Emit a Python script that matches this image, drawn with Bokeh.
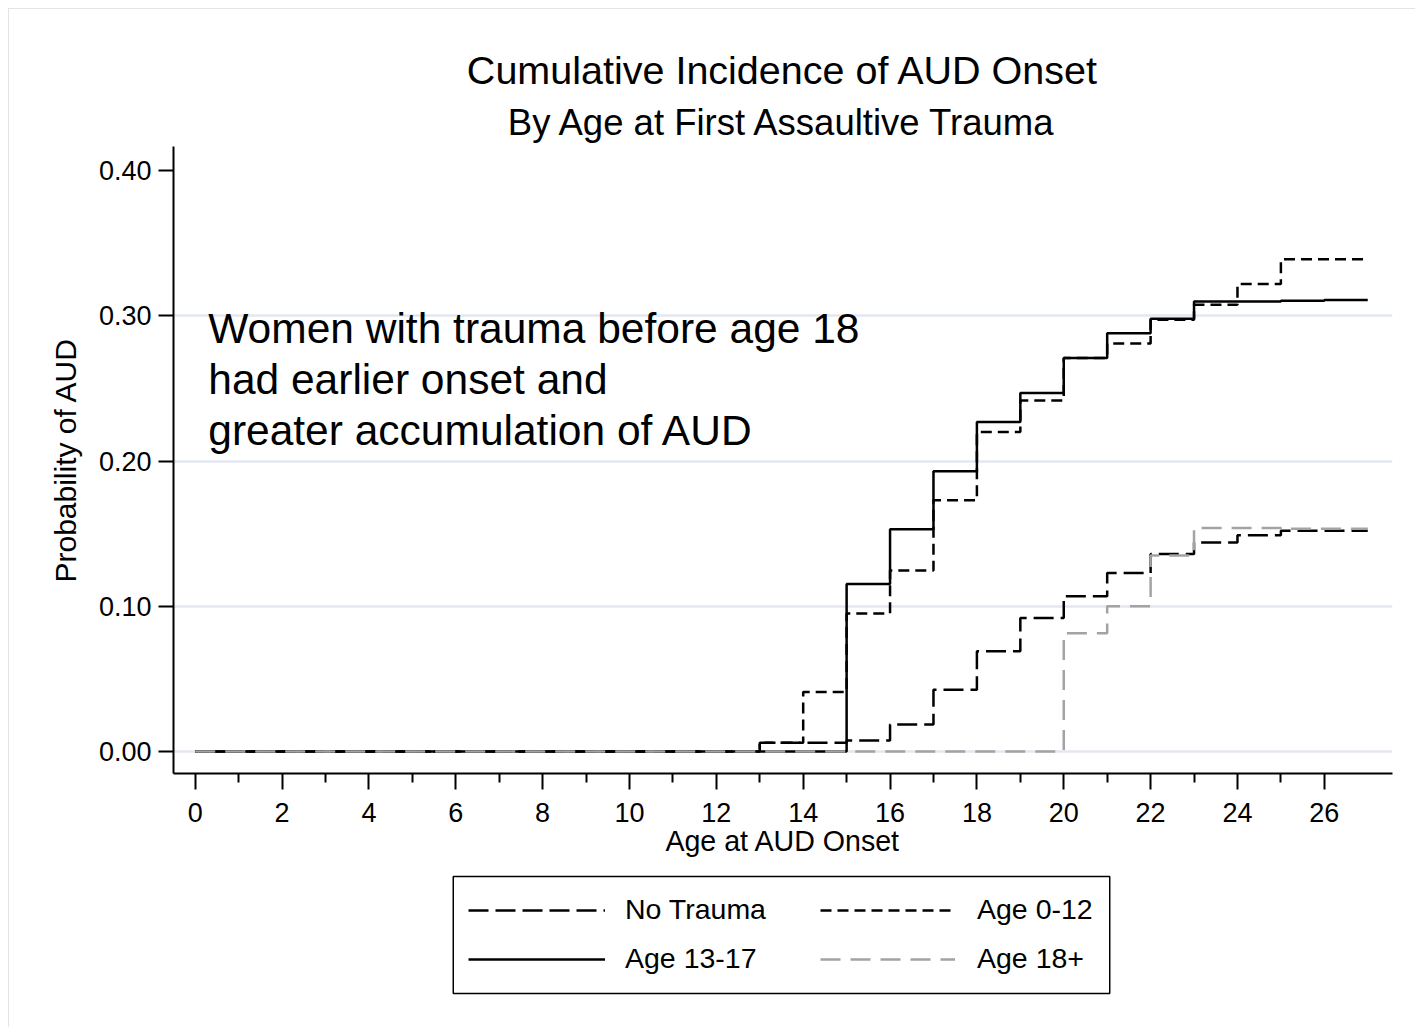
from bokeh.plotting import figure
from bokeh.layouts import column
from bokeh.models import (Range1d, FixedTicker, Label, Legend, LegendItem,
                          NumeralTickFormatter, Title, BoxAnnotation)
from bokeh.embed import file_html
from bokeh.resources import INLINE

# ---------------- data ----------------
ages = [0, 1, 2, 3, 4, 5, 6, 7, 8, 9, 10, 11, 12, 13, 14, 15, 16, 17, 18, 19, 20,
        21, 22, 23, 24, 25, 26, 27]
no_trauma = [0, 0, 0, 0, 0, 0, 0, 0, 0, 0, 0, 0, 0, 0.006, 0.006, 0.0076, 0.0186,
             0.0425, 0.069, 0.092, 0.107, 0.123, 0.136, 0.144, 0.149, 0.152, 0.152, 0.152]
age_0_12 = [0, 0, 0, 0, 0, 0, 0, 0, 0, 0, 0, 0, 0, 0.006, 0.041, 0.095, 0.1246,
            0.173, 0.220, 0.2417, 0.271, 0.281, 0.2974, 0.3077, 0.322, 0.339, 0.339, 0.339]
age_13_17 = [0, 0, 0, 0, 0, 0, 0, 0, 0, 0, 0, 0, 0, 0, 0, 0.1154, 0.153,
             0.193, 0.227, 0.247, 0.271, 0.288, 0.298, 0.310, 0.310, 0.3105, 0.311, 0.311]
age_18_plus = [0, 0, 0, 0, 0, 0, 0, 0, 0, 0, 0, 0, 0, 0, 0, 0, 0,
               0, 0, 0, 0.0815, 0.100, 0.135, 0.154, 0.154, 0.1535, 0.1535, 0.1535]
series_names = ["No Trauma", "Age 0-12", "Age 13-17", "Age 18+"]
x_major_ticks = [0, 2, 4, 6, 8, 10, 12, 14, 16, 18, 20, 22, 24, 26]
x_minor_ticks = [1, 3, 5, 7, 9, 11, 13, 15, 17, 19, 21, 23, 25]
y_ticks = [0, 0.1, 0.2, 0.3, 0.4]
y_grid = [0, 0.1, 0.2, 0.3]

title = "Cumulative Incidence of AUD Onset"
subtitle = "By Age at First Assaultive Trauma"
note_lines = ["Women with trauma before age 18", "had earlier onset and",
              "greater accumulation of AUD"]

FONT = "Liberation Sans"

series = [
    (series_names[0], no_trauma, dict(line_color="black", line_dash="20 7")),
    (series_names[1], age_0_12, dict(line_color="black", line_dash="11 6")),
    (series_names[2], age_13_17, dict(line_color="black", line_dash="solid")),
    (series_names[3], age_18_plus, dict(line_color="#a3a3a3", line_dash="20 10")),
]

BORDER_L, BORDER_R = 164, 23

# ---------------- main chart ----------------
p = figure(width=1406, height=861, output_backend="svg", toolbar_location=None,
           x_range=Range1d(-0.5, 27.57), y_range=Range1d(-0.01515, 0.4167),
           min_border_left=BORDER_L, min_border_right=BORDER_R, min_border_top=137,
           min_border_bottom=97)
p.outline_line_color = None
p.background_fill_color = "white"
p.border_fill_color = "white"

# titles (the added Title sits closest to the frame)
p.title.text = title
p.title.align = "center"
p.title.text_font = FONT
p.title.text_font_size = "39.5px"
p.title.text_font_style = "normal"
p.title.text_color = "black"
p.title.standoff = 8
sub = Title(text=subtitle, align="center", text_font=FONT, text_font_size="36.5px",
            text_font_style="normal", text_color="black", standoff=8)
p.add_layout(sub, "above")

# grid
p.xgrid.visible = False
p.ygrid.ticker = FixedTicker(ticks=y_grid)
p.ygrid.grid_line_color = "#e3e7f1"
p.ygrid.grid_line_width = 2.5

# axes
p.xaxis.ticker = FixedTicker(ticks=x_major_ticks, minor_ticks=x_minor_ticks)
p.yaxis.ticker = FixedTicker(ticks=y_ticks)
p.yaxis.formatter = NumeralTickFormatter(format="0.00")
for ax in (p.xaxis, p.yaxis):
    ax.axis_line_color = "black"
    ax.axis_line_width = 2
    ax.major_tick_line_color = "black"
    ax.major_tick_line_width = 2
    ax.major_tick_in = 0
    ax.major_label_text_font = FONT
    ax.major_label_text_font_size = "27px"
    ax.major_label_text_color = "black"
    ax.axis_label_text_font = FONT
    ax.axis_label_text_font_style = "normal"
    ax.axis_label_text_color = "black"
p.xaxis.major_tick_out = 16
p.xaxis.minor_tick_out = 9
p.xaxis.minor_tick_in = 0
p.xaxis.minor_tick_line_color = "black"
p.xaxis.minor_tick_line_width = 2
p.xaxis.major_label_standoff = 13
p.xaxis.axis_label = "Age at AUD Onset"
p.xaxis.axis_label_text_font_size = "28.6px"
p.xaxis.axis_label_standoff = 0
p.yaxis.major_tick_out = 15
p.yaxis.minor_tick_line_color = None
p.yaxis.major_label_standoff = 7
p.yaxis.axis_label = "Probability of AUD"
p.yaxis.axis_label_text_font_size = "30px"
p.yaxis.axis_label_standoff = 14

for name, vals, style in series:
    p.step(ages, vals, mode="after", line_width=2.5, **style)

for txt, yy in zip(note_lines, [0.2912, 0.2561, 0.2210]):
    p.add_layout(Label(x=0.3, y=yy, text=txt, text_align="left",
                       text_baseline="alphabetic", text_font=FONT,
                       text_font_size="42.5px", text_color="black"))

# ---------------- legend panel ----------------
# ranges in page pixels of this panel, so the legend box can be placed directly
q = figure(width=1406, height=157, output_backend="svg", toolbar_location=None,
           x_range=Range1d(173, 1393), y_range=Range1d(1027, 870),
           x_axis_type=None, y_axis_type=None,
           min_border_left=BORDER_L, min_border_right=BORDER_R, min_border_top=0,
           min_border_bottom=0)
q.grid.visible = False
q.outline_line_color = None
q.background_fill_color = "white"
q.border_fill_color = "white"

legend_renderers = {}
for name, vals, style in series:
    legend_renderers[name] = q.step(ages, vals, mode="after", line_width=2.5, **style)

q.add_layout(BoxAnnotation(left=453, right=1110, top=876, bottom=993,
                           fill_alpha=0, line_color="black", line_alpha=1.0,
                           line_width=1.5))

common = dict(orientation="vertical", glyph_height=30, label_height=30,
              label_text_font=FONT, label_text_font_size="28.5px",
              label_text_color="black", spacing=16, padding=0, margin=0,
              border_line_color=None, background_fill_alpha=0)
leg_a = Legend(items=[LegendItem(label=series_names[0], renderers=[legend_renderers[series_names[0]]]),
                      LegendItem(label=series_names[2], renderers=[legend_renderers[series_names[2]]])],
               location=(295, 52), glyph_width=137, label_standoff=20, **common)
leg_b = Legend(items=[LegendItem(label=series_names[1], renderers=[legend_renderers[series_names[1]]]),
                      LegendItem(label=series_names[3], renderers=[legend_renderers[series_names[3]]])],
               location=(647, 52), glyph_width=135, label_standoff=22, **common)
q.add_layout(leg_a, "center")
q.add_layout(leg_b, "center")

page = column(p, q, spacing=0)
page.styles = {"margin-left": "8px", "margin-top": "8px",
               "border-top": "1px solid #e4e4e4", "border-left": "1px solid #e4e4e4"}

open("out.html", "w").write(file_html(page, INLINE))
